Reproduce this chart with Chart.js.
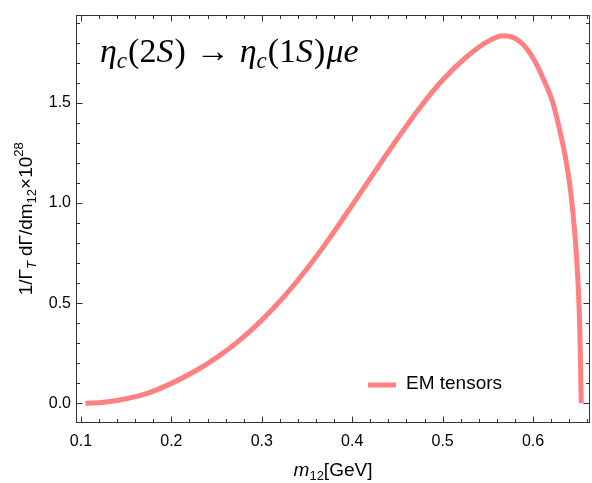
<!DOCTYPE html>
<html><head><meta charset="utf-8">
<script src="https://cdn.jsdelivr.net/npm/chart.js@4.4.1/dist/chart.umd.min.js"></script>
<style>html,body{margin:0;padding:0;background:#fff}#wrap{width:592px;height:483px}</style>
</head><body><div id="wrap"><canvas id="c" width="592" height="483"></canvas></div>
<script>
// ---- data ----
const massValues = [0.105, 0.125, 0.150, 0.175, 0.200, 0.225, 0.250, 0.275, 0.300, 0.325, 0.350, 0.375, 0.400, 0.425, 0.450, 0.475, 0.500, 0.525, 0.550, 0.567, 0.580, 0.590, 0.600, 0.610, 0.622, 0.630, 0.636, 0.641, 0.645, 0.648, 0.650, 0.6518, 0.6533];
const rateValues = [0.000, 0.005, 0.022, 0.052, 0.099, 0.157, 0.228, 0.313, 0.415, 0.535, 0.672, 0.825, 0.990, 1.157, 1.322, 1.478, 1.615, 1.725, 1.808, 1.836, 1.824, 1.788, 1.725, 1.635, 1.500, 1.355, 1.225, 1.080, 0.910, 0.740, 0.580, 0.360, 0.000];
const xTickValues = [0.1, 0.2, 0.3, 0.4, 0.5, 0.6];
const yTickValues = [0.0, 0.5, 1.0, 1.5];
const xMinorStep = 0.02;
const yMinorStep = 0.1;
const seriesLabel = 'EM tensors';
const xRange = [0.0945, 0.663];
const yRange = [-0.099, 1.942];

const lineColor = 'rgb(255,128,128)';
const frameColor = '#333';
const sans = '"Liberation Sans", Arial, sans-serif';
const serif = '"Liberation Serif", "DejaVu Serif", serif';

function drawRich(ctx, parts, x, y, align) {
  let total = 0;
  for (const p of parts) { ctx.font = p.f; p.w = ctx.measureText(p.t).width; total += p.w + (p.sp || 0); }
  let cx = align === 'center' ? x - total / 2 : x;
  ctx.textAlign = 'left';
  ctx.textBaseline = 'alphabetic';
  for (const p of parts) {
    ctx.font = p.f;
    ctx.fillText(p.t, cx, y + (p.dy || 0));
    cx += p.w + (p.sp || 0);
  }
  return total;
}

const decor = {
  id: 'decor',
  afterDraw(chart) {
    const ctx = chart.ctx, a = chart.chartArea;
    const xs = chart.scales.x, ys = chart.scales.y;
    ctx.save();
    // frame
    ctx.strokeStyle = frameColor;
    ctx.lineWidth = 1;
    const L = Math.round(a.left) + 0.5, R = Math.round(a.right) - 0.5;
    const T = Math.round(a.top) + 0.5, B = Math.round(a.bottom) - 0.5;
    ctx.strokeRect(L, T, R - L, B - T);
    ctx.beginPath();
    const major = 6, minor = 3.5;
    const eps = 1e-6;
    for (let k = -5; k < 60; k++) {
      const v = +(xTickValues[0] + k * xMinorStep).toFixed(4);
      if (v < xs.min - eps || v > xs.max + eps) continue;
      const isMajor = xTickValues.some(t => Math.abs(t - v) < eps);
      const len = isMajor ? major : minor;
      const px = Math.round(xs.getPixelForValue(v)) + 0.5;
      ctx.moveTo(px, B); ctx.lineTo(px, B - len);
      ctx.moveTo(px, T); ctx.lineTo(px, T + len);
    }
    for (let k = -5; k < 40; k++) {
      const v = +(yTickValues[0] + k * yMinorStep).toFixed(4);
      if (v < ys.min - eps || v > ys.max + eps) continue;
      const isMajor = yTickValues.some(t => Math.abs(t - v) < eps);
      const len = isMajor ? major : minor;
      const py = Math.round(ys.getPixelForValue(v)) + 0.5;
      ctx.moveTo(L, py); ctx.lineTo(L + len, py);
      ctx.moveTo(R, py); ctx.lineTo(R - len, py);
    }
    ctx.stroke();

    ctx.fillStyle = '#000';
    // plot title inside
    const big = 'italic 34px ' + serif, up = '34px ' + serif, sub = 'italic 23px ' + serif;
    drawRich(ctx, [
      {t: 'η', f: big}, {t: 'c', f: sub, dy: 6, sp: 1},
      {t: '(2', f: up}, {t: 'S', f: big, sp: 1}, {t: ')', f: up, sp: 10},
      {t: '→', f: up, sp: 10},
      {t: 'η', f: big}, {t: 'c', f: sub, dy: 6, sp: 1},
      {t: '(1', f: up}, {t: 'S', f: big, sp: 1}, {t: ')', f: up, sp: 1},
      {t: 'μe', f: big}
    ], 100, 62, 'left');

    // x axis title
    const tf = '19px ' + sans, tfi = 'italic 19px ' + sans, sf = '13px ' + sans;
    drawRich(ctx, [
      {t: 'm', f: tfi}, {t: '12', f: sf, dy: 4}, {t: '[GeV]', f: tf}
    ], (a.left + a.right) / 2, 476, 'center');

    // y axis title (rotated)
    ctx.save();
    ctx.translate(32, (a.top + a.bottom) / 2);
    ctx.rotate(-Math.PI / 2);
    drawRich(ctx, [
      {t: '1/Γ', f: tf}, {t: 'T', f: 'italic 13px ' + sans, dy: 4, sp: 5},
      {t: 'dΓ/dm', f: tf}, {t: '12', f: sf, dy: 4}, {t: '×10', f: tf}, {t: '28', f: sf, dy: -9}
    ], 0, 0, 'center');
    ctx.restore();

    // legend
    const ds = chart.data.datasets[0];
    ctx.strokeStyle = ds.borderColor;
    ctx.lineWidth = 5;
    ctx.beginPath();
    ctx.moveTo(368, 385); ctx.lineTo(396, 385);
    ctx.stroke();
    ctx.fillStyle = '#000';
    ctx.font = '19px ' + sans;
    ctx.textBaseline = 'middle';
    ctx.fillText(ds.label, 406, 384);
    ctx.restore();
  }
};

new Chart(document.getElementById('c'), {
  type: 'line',
  data: {
    datasets: [{
      label: seriesLabel,
      data: massValues.map((m, i) => ({x: m, y: rateValues[i]})),
      borderColor: lineColor,
      borderWidth: 5,
      pointRadius: 0,
      fill: false,
      cubicInterpolationMode: 'monotone'
    }]
  },
  options: {
    responsive: false,
    animation: false,
    devicePixelRatio: 1,
    layout: {padding: {left: 0, right: 2, top: 11, bottom: 0}},
    plugins: {legend: {display: false}, tooltip: {enabled: false}},
    scales: {
      x: {
        type: 'linear', min: xRange[0], max: xRange[1],
        afterBuildTicks: s => { s.ticks = xTickValues.map(v => ({value: v})); },
        afterFit: s => { s.height = 60; },
        grid: {display: false, drawTicks: false},
        border: {display: false},
        ticks: {padding: 9, color: '#000', font: {family: sans, size: 16}, maxRotation: 0, autoSkip: false,
          callback: v => v.toFixed(1)}
      },
      y: {
        type: 'linear', min: yRange[0], max: yRange[1],
        afterBuildTicks: s => { s.ticks = yTickValues.map(v => ({value: v})); },
        afterFit: s => { s.width = 76; },
        grid: {display: false, drawTicks: false},
        border: {display: false},
        ticks: {padding: 5, color: '#000', font: {family: sans, size: 16}, autoSkip: false,
          callback: v => v.toFixed(1)}
      }
    }
  },
  plugins: [decor]
});
</script></body></html>
